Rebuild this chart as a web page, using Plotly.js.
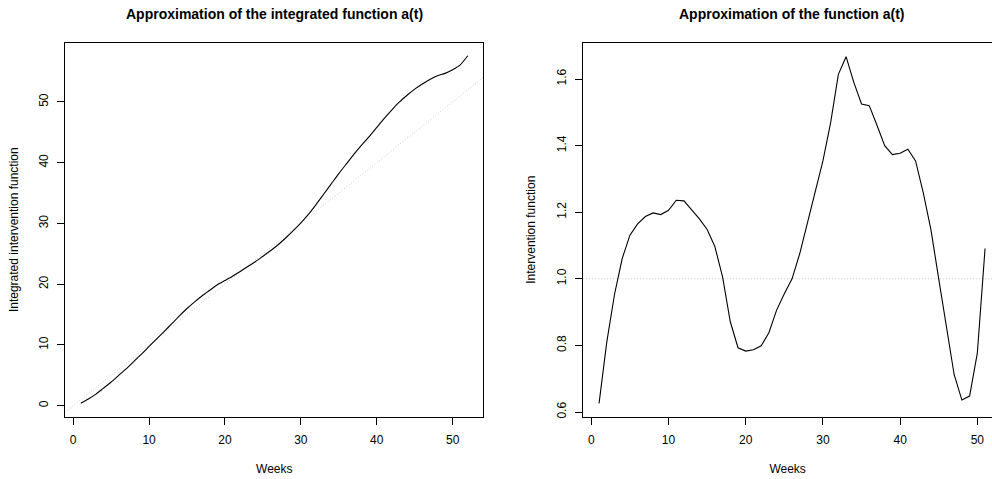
<!DOCTYPE html>
<html>
<head>
<meta charset="utf-8">
<script src="https://cdn.plot.ly/plotly-3.0.1.min.js"></script>
<style>html,body{margin:0;padding:0;background:#fff;}#chart{width:992px;height:479px;}</style>
</head>
<body>
<div id="chart"></div>
<script>
// ---- data ----
const weeksIntegrated = [1,2,3,4,5,6,7,8,9,10,11,12,13,14,15,16,17,18,19,20,21,22,23,24,25,26,27,28,29,30,31,32,33,34,35,36,37,38,39,40,41,42,43,44,45,46,47,48,49,50,51,52];
const integratedValues = [0.4,1.1,1.9,2.9,3.9,5.0,6.1,7.3,8.5,9.75,11.0,12.25,13.5,14.8,16.0,17.1,18.1,19.0,19.9,20.6,21.3,22.1,22.9,23.7,24.6,25.5,26.5,27.6,28.8,30.1,31.5,33.1,34.8,36.5,38.2,39.8,41.4,42.9,44.3,45.8,47.3,48.7,50.0,51.1,52.1,52.95,53.7,54.3,54.7,55.3,56.1,57.6];

const weeksFunction = [1,2,3,4,5,6,7,8,9,10,11,12,13,14,15,16,17,18,19,20,21,22,23,24,25,26,27,28,29,30,31,32,33,34,35,36,37,38,39,40,41,42,43,44,45,46,47,48,49,50,51];
const functionValues = [0.626,0.81,0.953,1.061,1.131,1.165,1.187,1.198,1.193,1.206,1.236,1.234,1.207,1.18,1.148,1.097,1.006,0.871,0.793,0.783,0.787,0.799,0.838,0.906,0.955,1.0,1.076,1.166,1.258,1.354,1.469,1.614,1.667,1.59,1.525,1.52,1.461,1.4,1.373,1.377,1.389,1.354,1.258,1.146,1.0,0.855,0.712,0.636,0.648,0.777,1.091];

// reference lines: y = x on the left, y = 1 on the right
const refSlope = 1, refIntercept = 0;
const refLevel = 1;

const xTicks = [0,10,20,30,40,50];
const yTicksLeft = [0,10,20,30,40,50];
const yTicksRight = [0.6,0.8,1.0,1.2,1.4,1.6];

const titleLeft = 'Approximation of the integrated function a(t)';
const titleRight = 'Approximation of the function a(t)';
const xTitle = 'Weeks';
const yTitleLeft = 'Integrated intervention function';
const yTitleRight = 'Intervention function';

// ---- layout geometry ----
const W = 992, H = 479;
const xRangeL = [-1.04, 54.04];
const xRangeR = [-1.04, 51.9];
const yRangeL = [-1.81, 59.75];
const yRangeR = [0.586, 1.709];
const FONT = '"Liberation Sans", Arial, Helvetica, sans-serif';

const refLineX = xRangeL.slice();
const refLineY = refLineX.map(v => refIntercept + refSlope * v);

const dotted = {color: '#c8c8c8', width: 1, dash: '1px,2px'};
const traces = [
  {x: refLineX, y: refLineY, xaxis: 'x', yaxis: 'y', mode: 'lines', line: dotted, hoverinfo: 'skip'},
  {x: weeksIntegrated, y: integratedValues, xaxis: 'x', yaxis: 'y', mode: 'lines',
   line: {color: '#000', width: 1.1, shape: 'spline', smoothing: 0.6}},
  {x: xRangeR.slice(), y: xRangeR.map(() => refLevel), xaxis: 'x2', yaxis: 'y2', mode: 'lines',
   line: dotted, hoverinfo: 'skip'},
  {x: weeksFunction, y: functionValues, xaxis: 'x2', yaxis: 'y2', mode: 'lines',
   line: {color: '#000', width: 1.1}}
];

const yb = 1 - 416.7 / H, yt = 1 - 42.7 / H;
const axisCommon = {
  showgrid: false, zeroline: false, showline: true, linecolor: '#000', linewidth: 1,
  ticks: 'outside', ticklen: 7, tickcolor: '#000', tickwidth: 1,
  tickfont: {family: FONT, size: 12, color: '#000'}, automargin: false,
  fixedrange: true
};

const layout = {
  width: W, height: H,
  margin: {l: 0, r: 0, t: 0, b: 0},
  paper_bgcolor: '#fff', plot_bgcolor: '#fff',
  showlegend: false,
  font: {family: FONT, color: '#000'},
  xaxis: Object.assign({}, axisCommon, {
    domain: [65.3 / W, 483.3 / W], range: xRangeL, tickvals: xTicks, mirror: true,
    ticklabelstandoff: 5,
    title: {text: xTitle, font: {family: FONT, size: 12, color: '#000'}, standoff: 18}
  }),
  yaxis: Object.assign({}, axisCommon, {
    domain: [yb, yt], range: yRangeL, tickvals: yTicksLeft, mirror: true, tickangle: -90,
    ticklabelstandoff: 5,
    title: {text: yTitleLeft, font: {family: FONT, size: 12, color: '#000'}, standoff: 15}
  }),
  xaxis2: Object.assign({}, axisCommon, {
    domain: [583.3 / W, 1], range: xRangeR, tickvals: xTicks, mirror: true,
    ticklabelstandoff: 5, anchor: 'y2',
    title: {text: xTitle, font: {family: FONT, size: 12, color: '#000'}, standoff: 18}
  }),
  yaxis2: Object.assign({}, axisCommon, {
    domain: [yb, yt], range: yRangeR, tickvals: yTicksRight, tickformat: '.1f', tickangle: -90,
    ticklabelstandoff: 5, anchor: 'x2',
    title: {text: yTitleRight, font: {family: FONT, size: 12, color: '#000'}, standoff: 16}
  }),
  annotations: [
    {text: '<b>' + titleLeft + '</b>', xref: 'paper', yref: 'paper',
     x: 274.3 / W, y: 1 - 14 / H, xanchor: 'center', yanchor: 'middle', showarrow: false,
     font: {family: FONT, size: 14, color: '#000'}},
    {text: '<b>' + titleRight + '</b>', xref: 'paper', yref: 'paper',
     x: 791.5 / W, y: 1 - 14 / H, xanchor: 'center', yanchor: 'middle', showarrow: false,
     font: {family: FONT, size: 14, color: '#000'}}
  ]
};

Plotly.newPlot('chart', traces, layout, {staticPlot: true, displayModeBar: false});
</script>
</body>
</html>
